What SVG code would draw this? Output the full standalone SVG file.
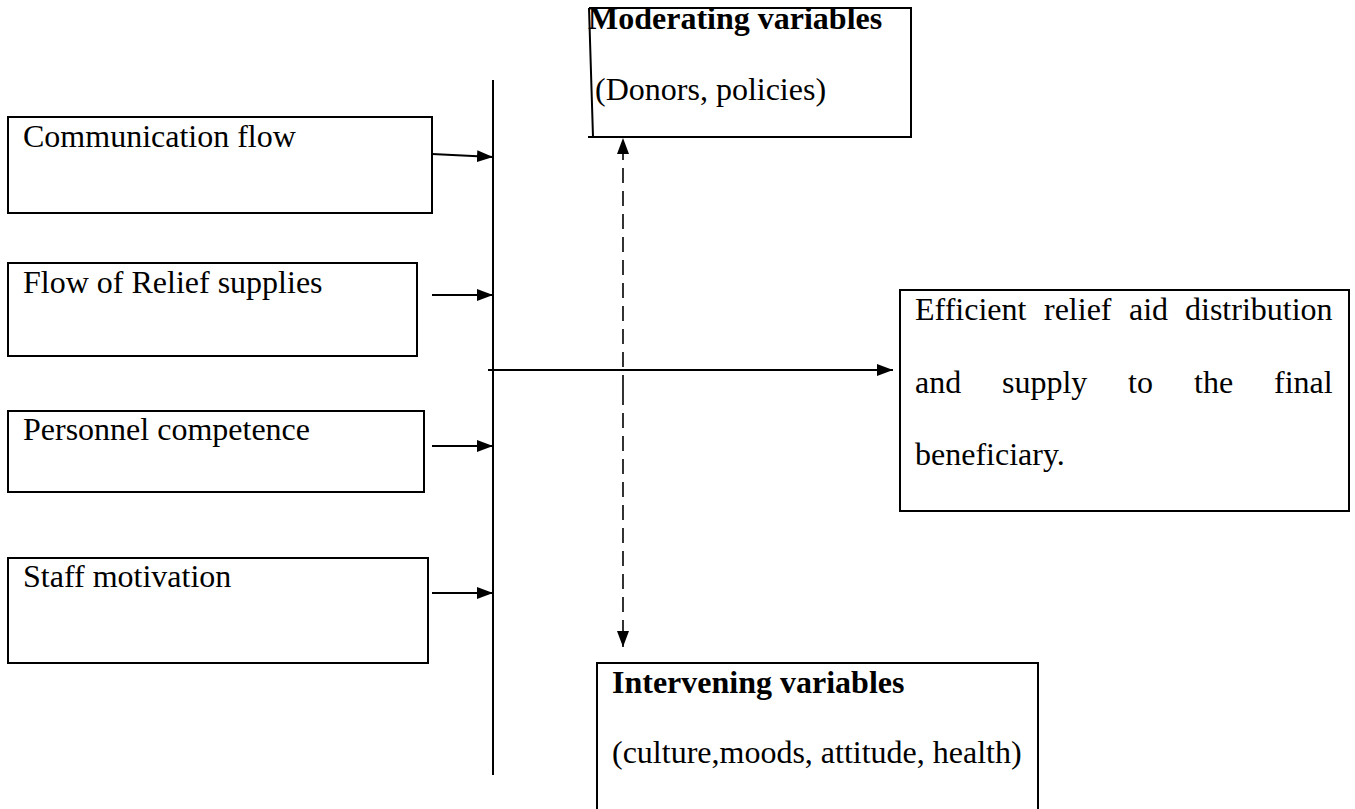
<svg xmlns="http://www.w3.org/2000/svg" width="1355" height="809" viewBox="0 0 1355 809">
<style>
.box{fill:#fff;stroke:#000;stroke-width:2}
.t{font-family:"Liberation Serif","Times New Roman",serif;font-size:32px;fill:#000}
.b{font-weight:bold}
.ln{stroke:#000;stroke-width:2;fill:none}
.dash{stroke:#000;stroke-width:1.6;fill:none;stroke-dasharray:15 8}
</style>
<defs>
<marker id="ah" markerWidth="16" markerHeight="12" refX="16" refY="6" orient="auto" markerUnits="userSpaceOnUse">
<path d="M0,0 L16,6 L0,12 Z" fill="#000"/>
</marker>
</defs>
<rect width="1355" height="809" fill="#fff"/>
<g id="communication">
<rect class="box" x="8" y="117" width="424" height="96"/>
<text class="t" x="23" y="147">Communication flow</text>
</g>
<g id="relief-supplies">
<rect class="box" x="8" y="263" width="409" height="93"/>
<text class="t" x="23" y="293">Flow of Relief supplies</text>
</g>
<g id="personnel">
<rect class="box" x="8" y="411" width="416" height="81"/>
<text class="t" x="23" y="440">Personnel competence</text>
</g>
<g id="staff">
<rect class="box" x="8" y="558" width="420" height="105"/>
<text class="t" x="23" y="587">Staff motivation</text>
</g>
<g id="moderating">
<path class="ln" d="M589,8 H911 V137 H588 M589,8 L593,137"/>
<text class="t b" x="588" y="29">Moderating variables</text>
<text class="t" x="595" y="100">(Donors, policies)</text>
</g>
<g id="efficient">
<rect class="box" x="900" y="290" width="449" height="221"/>
<text class="t" y="320"><tspan x="915">Efficient</tspan><tspan x="1044">relief</tspan><tspan x="1129">aid</tspan><tspan x="1185">distribution</tspan></text>
<text class="t" y="393"><tspan x="915">and</tspan><tspan x="1002">supply</tspan><tspan x="1128">to</tspan><tspan x="1194">the</tspan><tspan x="1274">final</tspan></text>
<text class="t" x="915" y="465">beneficiary.</text>
</g>
<g id="intervening">
<path class="ln" d="M597,812 V663 H1038 V812"/>
<text class="t b" x="612" y="693">Intervening variables</text>
<text class="t" x="612" y="763">(culture,moods, attitude, health)</text>
</g>
<g id="connectors">
<line class="ln" x1="493" y1="80" x2="493" y2="775"/>
<line class="ln" x1="432" y1="154" x2="493" y2="157" marker-end="url(#ah)"/>
<line class="ln" x1="432" y1="295" x2="493" y2="295" marker-end="url(#ah)"/>
<line class="ln" x1="432" y1="446" x2="493" y2="446" marker-end="url(#ah)"/>
<line class="ln" x1="432" y1="593" x2="493" y2="593" marker-end="url(#ah)"/>
<line class="ln" x1="488" y1="370" x2="893" y2="370" marker-end="url(#ah)"/>
<line class="dash" x1="623" y1="390" x2="623" y2="138" marker-end="url(#ah)"/>
<line class="dash" x1="623" y1="390" x2="623" y2="647" marker-end="url(#ah)"/>
</g>
</svg>
